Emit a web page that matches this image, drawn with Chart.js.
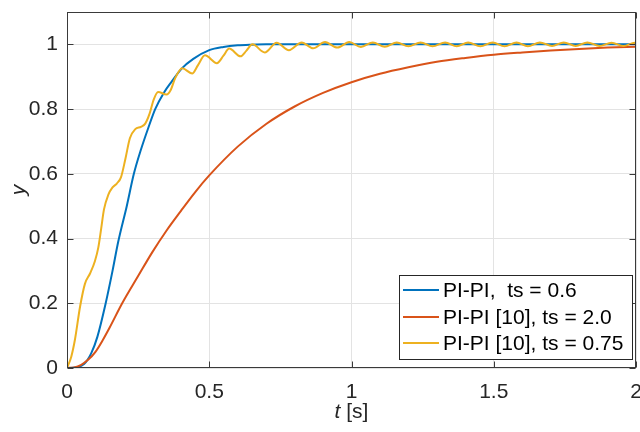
<!DOCTYPE html>
<html><head><meta charset="utf-8">
<script src="https://cdn.jsdelivr.net/npm/chart.js@4.4.0/dist/chart.umd.min.js"></script>
<style>html,body{margin:0;padding:0;background:#fff}#wrap{width:640px;height:432px}</style>
</head><body><div id="wrap"><canvas id="c" width="640" height="432"></canvas></div>
<script>
const seriesLabels = ['PI-PI,  ts = 0.6', 'PI-PI [10], ts = 2.0', 'PI-PI [10], ts = 0.75'];
const seriesColors = ['#0072BD', '#D95319', '#EDB120'];

const blueT = [0, 0.03, 0.06, 0.085, 0.107, 0.136, 0.16, 0.18, 0.21, 0.235, 0.26, 0.285, 0.31, 0.34, 0.368, 0.403, 0.444, 0.5, 0.55, 0.6, 0.65, 0.7, 0.8, 1.0, 1.5, 2.0];
const blueY = [0, 0.002, 0.012, 0.045, 0.097, 0.2, 0.3, 0.39, 0.5, 0.6, 0.675, 0.74, 0.8, 0.85, 0.885, 0.925, 0.955, 0.982, 0.992, 0.997, 0.999, 1.0, 1.0, 1.0, 1.0, 1.0];

const orangeT = [0, 0.025, 0.05, 0.075, 0.1, 0.125, 0.15, 0.194, 0.25, 0.3, 0.35, 0.4, 0.45, 0.5, 0.6, 0.7, 0.8, 0.9, 1.0, 1.1, 1.2, 1.3, 1.4, 1.5, 1.6, 1.7, 1.8, 1.9, 2.0];
const orangeY = [0, 0.002, 0.01, 0.026, 0.05, 0.085, 0.125, 0.2, 0.284, 0.358, 0.425, 0.485, 0.543, 0.595, 0.684, 0.754, 0.808, 0.85, 0.883, 0.909, 0.929, 0.946, 0.958, 0.968, 0.975, 0.981, 0.986, 0.99, 0.993];

const yellowT = [0, 0.015, 0.028, 0.046, 0.063, 0.081, 0.098, 0.11, 0.12, 0.13, 0.145, 0.16, 0.175, 0.19, 0.205, 0.221, 0.24, 0.26, 0.275, 0.29, 0.305, 0.32, 0.35, 0.365, 0.38, 0.405, 0.44, 0.46, 0.485, 0.527, 0.55, 0.57, 0.61, 0.63, 0.652, 0.695, 0.737, 0.78, 0.825, 0.865, 0.907, 0.95, 0.992, 1.033, 1.075, 1.117, 1.159, 1.2, 1.243, 1.285, 1.329, 1.37, 1.41, 1.453, 1.496, 1.538, 1.58, 1.62, 1.662, 1.705, 1.746, 1.788, 1.829, 1.872, 1.914, 1.956, 1.996, 2.0];
const yellowY = [0, 0.035, 0.088, 0.19, 0.26, 0.292, 0.33, 0.372, 0.43, 0.49, 0.535, 0.558, 0.57, 0.59, 0.645, 0.71, 0.738, 0.745, 0.755, 0.785, 0.83, 0.853, 0.845, 0.86, 0.895, 0.926, 0.91, 0.935, 0.966, 0.942, 0.965, 0.987, 0.963, 0.98, 1.0, 0.975, 1.005, 0.982, 1.006, 0.988, 1.007, 0.99, 1.007, 0.992, 1.006, 0.993, 1.006, 0.994, 1.006, 0.994, 1.006, 0.994, 1.006, 0.994, 1.006, 0.994, 1.006, 0.994, 1.006, 0.995, 1.006, 0.995, 1.006, 0.995, 1.005, 0.995, 1.005, 1.004];

const xTickVals = [0, 0.5, 1, 1.5, 2];
const xTickLabels = ['0', '0.5', '1', '1.5', '2'];
const yTickVals = [0, 0.2, 0.4, 0.6, 0.8, 1];
const yTickLabels = ['0', '0.2', '0.4', '0.6', '0.8', '1'];

const FONT = "'Liberation Sans', Arial, Helvetica, sans-serif";
const FS = 21;
const TXT = '#262626';
const AXIS = '#3a3a3a';

function pts(t, y) { return t.map((v, i) => ({ x: v, y: y[i] })); }

const deco = {
  id: 'deco',
  afterDatasetsDraw(chart) {
    const { ctx, chartArea: a, scales: { x, y } } = chart;
    ctx.save();
    const L = Math.round(a.left) + 0.5, R = Math.round(a.right) - 0.5;
    const T = Math.round(a.top) + 0.5, B = Math.round(a.bottom) - 0.5;
    const tl = 6;
    ctx.strokeStyle = AXIS; ctx.lineWidth = 1;
    ctx.strokeRect(L, T, R - L, B - T);
    ctx.beginPath();
    xTickVals.forEach(v => {
      const px = Math.round(x.getPixelForValue(v)) + 0.5;
      ctx.moveTo(px, B); ctx.lineTo(px, B - tl);
      ctx.moveTo(px, T); ctx.lineTo(px, T + tl);
    });
    yTickVals.forEach(v => {
      const py = Math.round(y.getPixelForValue(v)) + 0.5;
      ctx.moveTo(L, py); ctx.lineTo(L + tl, py);
      ctx.moveTo(R, py); ctx.lineTo(R - tl, py);
    });
    ctx.stroke();

    // legend
    const lx = 399.5, ly = 275.5, lw = 233, lh = 84;
    ctx.fillStyle = '#fff';
    ctx.fillRect(lx, ly, lw, lh);
    ctx.strokeStyle = '#262626';
    ctx.strokeRect(lx, ly, lw, lh);
    ctx.font = FS + 'px ' + FONT;
    ctx.textBaseline = 'middle';
    ctx.textAlign = 'left';
    const rows = [290, 317, 343];
    seriesLabels.forEach((lab, i) => {
      ctx.strokeStyle = seriesColors[i];
      ctx.lineWidth = 2;
      ctx.beginPath();
      ctx.moveTo(403, rows[i]); ctx.lineTo(439, rows[i]);
      ctx.stroke();
      ctx.fillStyle = '#000';
      ctx.fillText(lab, 443, rows[i] + 1);
    });

    // axis titles
    ctx.fillStyle = TXT;
    ctx.font = 'italic ' + FS + 'px ' + FONT;
    const tW = ctx.measureText('t').width;
    ctx.font = FS + 'px ' + FONT;
    const sW = ctx.measureText(' [s]').width;
    const cx = (a.left + a.right) / 2;
    const x0 = cx - (tW + sW) / 2;
    ctx.textAlign = 'left';
    ctx.textBaseline = 'middle';
    ctx.font = 'italic ' + FS + 'px ' + FONT;
    ctx.fillText('t', x0, 412);
    ctx.font = FS + 'px ' + FONT;
    ctx.fillText(' [s]', x0 + tW, 412);

    ctx.save();
    ctx.translate(19, (a.top + a.bottom) / 2);
    ctx.rotate(-Math.PI / 2);
    ctx.font = 'italic ' + FS + 'px ' + FONT;
    ctx.textAlign = 'center';
    ctx.textBaseline = 'middle';
    ctx.fillText('y', 0, 0);
    ctx.restore();
    ctx.restore();
  }
};

new Chart(document.getElementById('c'), {
  type: 'line',
  data: {
    datasets: [
      { label: seriesLabels[0], data: pts(blueT, blueY), borderColor: seriesColors[0], order: 3 },
      { label: seriesLabels[1], data: pts(orangeT, orangeY), borderColor: seriesColors[1], order: 2 },
      { label: seriesLabels[2], data: pts(yellowT, yellowY), borderColor: seriesColors[2], order: 1 }
    ]
  },
  options: {
    responsive: false,
    animation: false,
    devicePixelRatio: 1,
    layout: { padding: { top: 12, right: 4, left: 0, bottom: 0 } },
    elements: {
      line: { borderWidth: 2, cubicInterpolationMode: 'monotone', fill: false },
      point: { radius: 0, hoverRadius: 0 }
    },
    plugins: { legend: { display: false }, tooltip: { enabled: false } },
    scales: {
      x: {
        type: 'linear', min: 0, max: 2,
        afterFit(s) { s.height = 64; s.paddingLeft = 0; s.paddingRight = 0; },
        afterBuildTicks(s) { s.ticks = xTickVals.map(v => ({ value: v })); },
        grid: { color: '#e3e3e3', drawTicks: false, lineWidth: 1 },
        border: { display: false },
        ticks: {
          padding: 12, color: TXT, font: { family: FONT, size: FS }, maxRotation: 0, autoSkip: false,
          callback: (v) => { const i = xTickVals.indexOf(v); return i >= 0 ? xTickLabels[i] : ''; }
        }
      },
      y: {
        type: 'linear', min: 0, max: 1.1,
        afterFit(s) { s.width = 67; s.paddingTop = 0; s.paddingBottom = 0; },
        afterBuildTicks(s) { s.ticks = yTickVals.map(v => ({ value: v })); },
        grid: { color: '#e3e3e3', drawTicks: false, lineWidth: 1 },
        border: { display: false },
        ticks: {
          padding: 9, color: TXT, font: { family: FONT, size: FS }, autoSkip: false,
          callback: (v) => { const i = yTickVals.indexOf(v); return i >= 0 ? yTickLabels[i] : ''; }
        }
      }
    }
  },
  plugins: [deco]
});
</script></body></html>
